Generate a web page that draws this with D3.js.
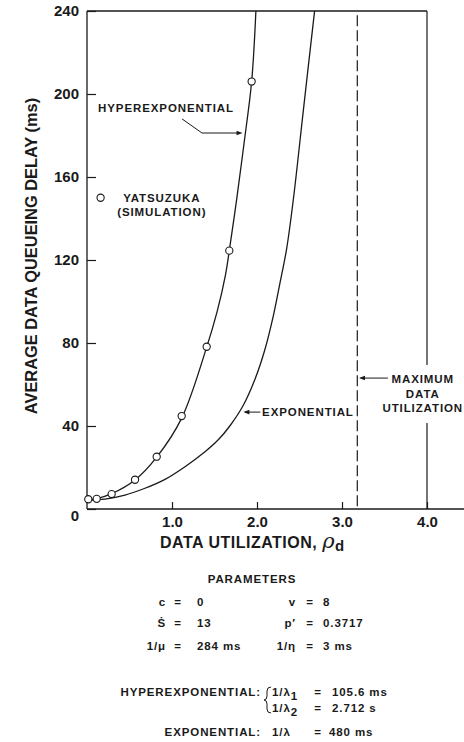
<!DOCTYPE html>
<html>
<head>
<meta charset="utf-8">
<title>Average data queueing delay</title>
<style>
  body { margin: 0; background: #fff; }
  svg { display: block; font-family: "Liberation Sans", Arial, sans-serif; font-weight: bold; }
  .lbl { font-size: 11.5px; letter-spacing: 0.9px; fill: #1a1a1a; }
  .tick text { font-size: 15px; font-weight: bold; fill: #1a1a1a; font-family: "Liberation Sans", Arial, sans-serif; }
  .tick line { stroke: #1a1a1a; stroke-width: 1.2; }
</style>
<script src="https://cdnjs.cloudflare.com/ajax/libs/d3/7.8.5/d3.min.js"></script>
</head>
<body>
<div id="chart"></div>
<script>
// values (x = data utilization, y = delay in ms)
const hyperCurve = [[0, 4.5], [0.114, 5], [0.29, 7.4], [0.565, 14], [0.82, 25], [1.114, 43.8],
  [1.408, 78], [1.53, 95], [1.63, 113], [1.674, 124.5], [1.76, 149], [1.85, 177], [1.937, 206], [1.987, 240]];
const expCurve = [[0, 4.3], [0.212, 4.8], [0.447, 6.7], [0.682, 10], [0.918, 14.3], [1.153, 20.4],
  [1.388, 27.6], [1.55, 33.6], [1.68, 40], [1.839, 50], [1.976, 62.5], [2.094, 77], [2.19, 92.7], [2.27, 108.8],
  [2.349, 125.5], [2.43, 150], [2.545, 192], [2.67, 237.3], [2.678, 240]];
const simPoints = [[0.015, 4.7], [0.114, 4.9], [0.29, 7.2], [0.565, 14.1], [0.82, 25.2], [1.114, 44.8],
  [1.408, 78.2], [1.674, 124.5], [1.937, 206]];
const maxUtil = 3.18;
const xTicks = [1, 2, 3, 4];
const yTicks = [0, 40, 80, 120, 160, 200, 240];

const paramsLeft = [["c", "0"], ["Ṡ", "13"], ["1/μ", "284 ms"]];
const paramsRight = [["v", "8"], ["p′", "0.3717"], ["1/η", "3 ms"]];

const W = 464, H = 742;
const svg = d3.select("#chart").append("svg").attr("width", W).attr("height", H);
svg.append("rect").attr("width", W).attr("height", H).attr("fill", "#fff");

const x = d3.scaleLinear().domain([0, 4]).range([87, 427]);
const y = d3.scaleLinear().domain([0, 240]).range([509, 11]);
const ink = "#1a1a1a";

// frame
svg.append("line").attr("x1", x(0)).attr("x2", x(4)).attr("y1", y(240)).attr("y2", y(240))
  .attr("stroke", ink).attr("stroke-width", 1.3);
svg.append("line").attr("x1", x(0)).attr("x2", x(0)).attr("y1", y(240)).attr("y2", y(0))
  .attr("stroke", ink).attr("stroke-width", 1.3);
svg.append("line").attr("x1", x(0)).attr("x2", W).attr("y1", y(0)).attr("y2", y(0))
  .attr("stroke", ink).attr("stroke-width", 1.3);
svg.append("line").attr("x1", x(4)).attr("x2", x(4)).attr("y1", y(240)).attr("y2", y(69.4))
  .attr("stroke", ink).attr("stroke-width", 1.2);
svg.append("line").attr("x1", x(4)).attr("x2", x(4)).attr("y1", y(41.4)).attr("y2", y(0))
  .attr("stroke", ink).attr("stroke-width", 1.2);

// axes
const xAxis = svg.append("g").attr("transform", `translate(0,${y(0)})`)
  .call(d3.axisBottom(x).tickValues(xTicks).tickSize(-7).tickPadding(7).tickFormat(d3.format(".1f")));
xAxis.select(".domain").remove();

const yAxis = svg.append("g").attr("transform", `translate(${x(0)},0)`)
  .call(d3.axisLeft(y).tickValues(yTicks).tickSize(-9).tickPadding(8));
yAxis.select(".domain").remove();
yAxis.selectAll(".tick").filter(d => d === 0).select("text").attr("dy", "0.75em");

// axis titles
svg.append("text").attr("transform", "translate(37,256) rotate(-90)").attr("text-anchor", "middle")
  .attr("font-size", 16.4).attr("fill", ink).text("AVERAGE DATA QUEUEING DELAY (ms)");
const xt = svg.append("text").attr("x", 160).attr("y", 548).attr("font-size", 16)
  .attr("letter-spacing", 0.5).attr("fill", ink);
xt.append("tspan").text("DATA UTILIZATION, ");
xt.append("tspan").attr("font-style", "italic").attr("font-weight", "normal").attr("font-size", 21)
  .attr("font-family", "DejaVu Serif, serif").text("ρ");
xt.append("tspan").attr("dy", 3).attr("font-size", 15).text("d");

// max utilization
svg.append("line").attr("x1", x(maxUtil)).attr("x2", x(maxUtil)).attr("y1", y(238)).attr("y2", y(0))
  .attr("stroke", ink).attr("stroke-width", 1.2).attr("stroke-dasharray", "11,4");

// curves
const line = d3.line().x(d => x(d[0])).y(d => y(d[1])).curve(d3.curveCatmullRom.alpha(0.5));
svg.append("path").datum(hyperCurve).attr("d", line).attr("fill", "none").attr("stroke", ink).attr("stroke-width", 1.3);
svg.append("path").datum(expCurve).attr("d", line).attr("fill", "none").attr("stroke", ink).attr("stroke-width", 1.3);

svg.selectAll(".sim").data(simPoints).join("circle").attr("class", "sim")
  .attr("cx", d => x(d[0])).attr("cy", d => y(d[1])).attr("r", 3.6)
  .attr("fill", "#fff").attr("stroke", ink).attr("stroke-width", 1.1);

// annotations
function arrowHead(px, py, dir) {
  const s = dir === "right" ? -1 : 1;
  svg.append("path").attr("d", `M${px},${py} L${px + s * 6},${py - 2.3} L${px + s * 6},${py + 2.3} Z`).attr("fill", ink);
}
svg.append("text").attr("class", "lbl").attr("x", x(0.13)).attr("y", y(191.3)).text("HYPEREXPONENTIAL");
svg.append("path").attr("d", `M${x(1.118)},${y(188)} L${x(1.353)},${y(181.2)} L${x(1.8)},${y(181.2)}`)
  .attr("fill", "none").attr("stroke", ink).attr("stroke-width", 1);
arrowHead(x(1.83), y(181.2), "right");

svg.append("text").attr("class", "lbl").attr("x", x(2.06)).attr("y", y(44.8)).text("EXPONENTIAL");
svg.append("line").attr("x1", x(1.86)).attr("x2", x(2.04)).attr("y1", y(46.7)).attr("y2", y(46.7))
  .attr("stroke", ink).attr("stroke-width", 1);
arrowHead(x(1.84), y(46.7), "left");

svg.append("circle").attr("cx", x(0.16)).attr("cy", y(150)).attr("r", 3.6)
  .attr("fill", "#fff").attr("stroke", ink).attr("stroke-width", 1.1);
svg.append("text").attr("class", "lbl").attr("text-anchor", "middle").attr("x", x(0.88)).attr("y", y(148)).text("YATSUZUKA");
svg.append("text").attr("class", "lbl").attr("text-anchor", "middle").attr("x", x(0.88)).attr("y", y(141.2)).text("(SIMULATION)");

svg.append("line").attr("x1", x(3.22)).attr("x2", x(3.54)).attr("y1", y(63.1)).attr("y2", y(63.1))
  .attr("stroke", ink).attr("stroke-width", 1);
arrowHead(x(3.2), y(63.1), "left");
[["MAXIMUM", 60.7], ["DATA", 53.5], ["UTILIZATION", 46.7]].forEach(([t, v]) => {
  svg.append("text").attr("class", "lbl").attr("text-anchor", "middle").attr("x", x(3.95)).attr("y", y(v)).text(t);
});

// parameter block
const p = svg.append("g").attr("class", "lbl");
p.append("text").attr("x", 252).attr("y", 583).attr("text-anchor", "middle").text("PARAMETERS");
const rowsY = [606, 627, 650];
paramsLeft.forEach(([k, v], i) => {
  p.append("text").attr("x", 166).attr("y", rowsY[i]).attr("text-anchor", "end").text(k);
  p.append("text").attr("x", 178).attr("y", rowsY[i]).attr("text-anchor", "middle").text("=");
  p.append("text").attr("x", 197).attr("y", rowsY[i]).text(v);
});
paramsRight.forEach(([k, v], i) => {
  p.append("text").attr("x", 296).attr("y", rowsY[i]).attr("text-anchor", "end").text(k);
  p.append("text").attr("x", 310).attr("y", rowsY[i]).attr("text-anchor", "middle").text("=");
  p.append("text").attr("x", 323).attr("y", rowsY[i]).text(v);
});

p.append("text").attr("x", 261).attr("y", 696).attr("text-anchor", "end").text("HYPEREXPONENTIAL:");
svg.append("path").attr("d", "M271,687 Q267,687 267,691 L267,696 Q267,700 264,700 Q267,700 267,704 L267,709 Q267,713 271,713")
  .attr("fill", "none").attr("stroke", ink).attr("stroke-width", 1);
const l1 = p.append("text").attr("x", 272).attr("y", 696);
l1.append("tspan").text("1/λ");
l1.append("tspan").attr("dy", 4).text("1");
p.append("text").attr("x", 318).attr("y", 696).attr("text-anchor", "middle").text("=");
p.append("text").attr("x", 332).attr("y", 696).text("105.6 ms");
const l2 = p.append("text").attr("x", 272).attr("y", 712);
l2.append("tspan").text("1/λ");
l2.append("tspan").attr("dy", 4).text("2");
p.append("text").attr("x", 318).attr("y", 712).attr("text-anchor", "middle").text("=");
p.append("text").attr("x", 332).attr("y", 712).text("2.712 s");

p.append("text").attr("x", 261).attr("y", 736).attr("text-anchor", "end").text("EXPONENTIAL:");
p.append("text").attr("x", 272).attr("y", 736).text("1/λ");
p.append("text").attr("x", 318).attr("y", 736).attr("text-anchor", "middle").text("=");
p.append("text").attr("x", 329).attr("y", 736).text("480 ms");
</script>
</body>
</html>
